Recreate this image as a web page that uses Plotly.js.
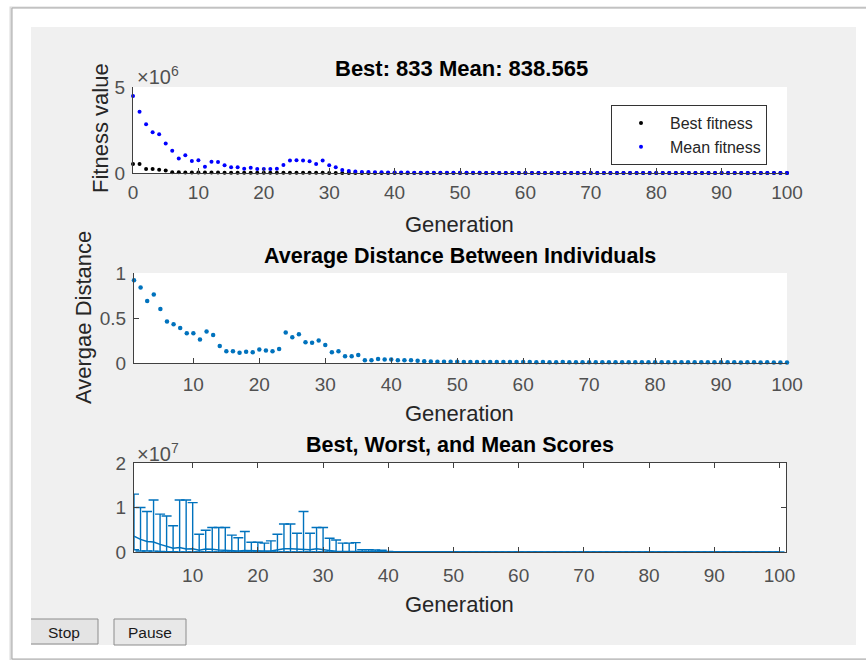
<!DOCTYPE html>
<html>
<head>
<meta charset="utf-8">
<script src="https://cdn.plot.ly/plotly-3.0.1.min.js"></script>
<style>
  html, body { margin: 0; padding: 0; background: #ffffff; }
  #chart { width: 866px; height: 660px; }
</style>
</head>
<body>
<div id="chart"></div>
<script>
// ---------------- data ----------------
const generations = [0,1,2,3,4,5,6,7,8,9,10,11,12,13,14,15,16,17,18,19,20,21,22,23,24,25,26,27,28,29,30,
  31,32,33,34,35,36,37,38,39,40,41,42,43,44,45,46,47,48,49,50,51,52,53,54,55,56,57,58,59,60,
  61,62,63,64,65,66,67,68,69,70,71,72,73,74,75,76,77,78,79,80,81,82,83,84,85,86,87,88,89,90,
  91,92,93,94,95,96,97,98,99,100];

const meanFitness = [4480000,3560000,2830000,2370000,2250000,1720000,1300000,850000,1030000,700000,
  740000,370000,660000,640000,450000,330000,330000,250000,310000,230000,
  230000,230000,250000,470000,720000,740000,720000,680000,520000,720000,
  450000,330000,170000,120000,80000,60000,52000,45000,39000,34000,
  30000,26000,23000,20500,18000,16000,14500,13000,11800,10700,
  9800,9000,8300,7700,7200,6700,6300,5900,5500,5200,
  4900,4600,4350,4100,3900,3700,3500,3300,3150,3000,
  2850,2700,2580,2460,2350,2250,2150,2060,1980,1900,
  1830,1760,1690,1630,1570,1510,1460,1410,1360,1310,
  1260,1220,1180,1140,1100,1060,1020,980,930,885,
  838.565];

const bestFitness = [520000,520000,230000,230000,190000,150000,45000,40000,36000,33000,
  30000,27000,25000,23000,21000,19000,17500,16000,15000,14000,
  13000,12000,11000,10500,10000,9500,9000,8500,8000,7600,
  7200,6800,6400,6000,5600,5300,5000,4700,4400,4100,
  3900,3700,3500,3300,3100,2950,2800,2650,2500,2380,
  2260,2150,2050,1960,1880,1800,1730,1660,1600,1540,
  1490,1440,1390,1350,1310,1270,1240,1210,1180,1150,
  1120,1100,1080,1060,1040,1020,1000,985,970,955,
  940,930,920,910,900,892,885,878,872,866,
  861,856,852,848,845,842,839,837,835,834,
  833];

const distGenerations = generations.slice(1);
const avgDistance = [0.92,0.84,0.69,0.76,0.60,0.46,0.43,0.39,0.33,0.33,
  0.26,0.35,0.31,0.19,0.13,0.13,0.115,0.125,0.12,0.15,
  0.14,0.13,0.155,0.34,0.285,0.32,0.23,0.225,0.25,0.20,
  0.12,0.13,0.075,0.075,0.09,0.03,0.03,0.045,0.04,0.04,
  0.03,0.03,0.03,0.025,0.02,0.018,0.015,0.015,0.014,0.013,
  0.012,0.012,0.011,0.011,0.011,0.010,0.010,0.010,0.011,0.010,
  0.010,0.009,0.010,0.009,0.009,0.010,0.009,0.009,0.009,0.008,
  0.009,0.008,0.009,0.008,0.008,0.008,0.009,0.008,0.008,0.008,
  0.008,0.007,0.008,0.007,0.008,0.007,0.007,0.008,0.007,0.007,
  0.007,0.007,0.006,0.007,0.007,0.006,0.007,0.006,0.006,0.006];

const scoreGenerations = generations.slice(1);
const worstScores = [13000000,10000000,9100000,11700000,8500000,8100000,5900000,11700000,11700000,11100000,
  4000000,4900000,5500000,5500000,5500000,3800000,3200000,4600000,2200000,2200000,
  2000000,2500000,4000000,6300000,6300000,4200000,9100000,4200000,5500000,5500000,
  3100000,2700000,2000000,2000000,2100000,500000,500000,450000,400000,120000,
  90000,80000,72000,65000,60000,55000,50000,46000,43000,40000,
  37000,35000,33000,31000,29000,27000,25500,24000,23000,22000,
  21000,20000,19000,18000,17200,16500,15800,15000,14500,14000,
  13500,13000,12500,12000,11600,11200,10800,10400,10000,9700,
  9400,9100,8800,8500,8200,8000,7800,7600,7400,7200,
  7000,6800,6600,6400,6200,6000,5800,5600,5400,5200];
const meanScores = meanFitness.slice(1);
const bestScores = bestFitness.slice(1);

const xTicksTop = [0,10,20,30,40,50,60,70,80,90,100];
const xTicksLower = [10,20,30,40,50,60,70,80,90,100];

// ---------------- helpers ----------------
const W = 866, H = 660;
const px = v => v / W;
const py = v => 1 - v / H;
const FONT = 'Liberation Sans, Arial, Helvetica, sans-serif';
const AX = '#404040';
const TICKC = '#505050';
const MBLUE = '#0072BD';

const upperErr = worstScores.map((w, i) => w - meanScores[i]);
const lowerErr = meanScores.map((m, i) => m - bestScores[i]);

// ---------------- traces ----------------
const traces = [
  {
    x: generations, y: bestFitness, type: 'scatter', mode: 'markers',
    name: 'Best fitness', xaxis: 'x', yaxis: 'y', cliponaxis: false,
    marker: { color: '#000000', size: 4 }
  },
  {
    x: generations, y: meanFitness, type: 'scatter', mode: 'markers',
    name: 'Mean fitness', xaxis: 'x', yaxis: 'y', cliponaxis: false,
    marker: { color: '#0000FF', size: 4 }
  },
  {
    x: distGenerations, y: avgDistance, type: 'scatter', mode: 'markers',
    name: 'Average distance', xaxis: 'x2', yaxis: 'y2', showlegend: false, cliponaxis: false,
    marker: { color: MBLUE, size: 4.5 }
  },
  {
    x: scoreGenerations, y: meanScores, type: 'scatter', mode: 'lines',
    name: 'Scores', xaxis: 'x3', yaxis: 'y3', showlegend: false,
    line: { color: MBLUE, width: 1.5 },
    error_y: {
      type: 'data', symmetric: false, array: upperErr, arrayminus: lowerErr,
      color: MBLUE, thickness: 1.4, width: 5, visible: true
    }
  }
];

function xAxis(domain, range, tickvals, anchor, mirror, standoff) {
  return {
    domain: domain, range: range, anchor: anchor,
    tickmode: 'array', tickvals: tickvals, ticktext: tickvals.map(String),
    ticks: 'inside', ticklen: 5, tickwidth: 1, tickcolor: AX,
    showline: true, linecolor: AX, linewidth: 1, mirror: mirror,
    showgrid: false, zeroline: false, fixedrange: true,
    ticklabelstandoff: standoff,
    tickfont: { family: FONT, size: 19, color: TICKC }
  };
}
function yAxis(domain, range, tickvals, ticktext, anchor, mirror) {
  return {
    domain: domain, range: range, anchor: anchor,
    tickmode: 'array', tickvals: tickvals, ticktext: ticktext,
    ticks: 'inside', ticklen: 5, tickwidth: 1, tickcolor: AX,
    showline: true, linecolor: AX, linewidth: 1, mirror: mirror,
    showgrid: false, zeroline: false, fixedrange: true,
    ticklabelstandoff: 3,
    tickfont: { family: FONT, size: 19, color: TICKC }
  };
}

const ann = (text, x, y, size, opts) => Object.assign({
  text: text, x: px(x), y: py(y), xref: 'paper', yref: 'paper',
  showarrow: false, xanchor: 'center', yanchor: 'middle',
  font: { family: FONT, size: size, color: '#262626' }
}, opts || {});

const layout = {
  width: W, height: H,
  margin: { l: 0, r: 0, t: 0, b: 0, pad: 0 },
  paper_bgcolor: '#ffffff',
  plot_bgcolor: '#ffffff',
  font: { family: FONT, color: '#262626' },
  showlegend: true,
  legend: {
    x: px(611), y: py(105), xanchor: 'left', yanchor: 'top',
    bgcolor: '#ffffff', bordercolor: '#333333', borderwidth: 1,
    font: { family: FONT, size: 16, color: '#262626' },
    itemwidth: 48, tracegroupgap: 0
  },
  xaxis: xAxis([px(133), px(787)], [0, 100], xTicksTop, 'y', false, 2),
  yaxis: yAxis([py(173), py(87)], [0, 5e6], [0, 5e6], ['0', '5'], 'x', false),
  xaxis2: xAxis([px(134), px(787)], [1, 100], xTicksLower, 'y2', false, 4),
  yaxis2: yAxis([py(363), py(273)], [0, 1], [0, 0.5, 1], ['0', '0.5', '1'], 'x2', false),
  xaxis3: xAxis([px(134), px(786)], [1, 101], xTicksLower, 'y3', 'ticks', 6),
  yaxis3: yAxis([py(552), py(463)], [0, 2e7], [0, 1e7, 2e7], ['0', '1', '2'], 'x3', 'ticks'),
  shapes: [
    // window frame
    { type: 'rect', xref: 'paper', yref: 'paper', layer: 'below',
      x0: px(11), x1: px(880), y0: py(8), y1: py(659),
      line: { color: '#dcdcdc', width: 3 }, fillcolor: '#ffffff' },
    { type: 'rect', xref: 'paper', yref: 'paper', layer: 'below',
      x0: px(12), x1: px(880), y0: py(8), y1: py(659),
      line: { color: '#a8a8a8', width: 1 }, fillcolor: '#ffffff' },
    // gray panel
    { type: 'rect', xref: 'paper', yref: 'paper', layer: 'below',
      x0: px(31), x1: px(856), y0: py(27), y1: py(645),
      line: { width: 0 }, fillcolor: '#f0f0f0' },
    // white plot backgrounds
    { type: 'rect', xref: 'x domain', yref: 'y domain', layer: 'below',
      x0: 0, x1: 1, y0: 0, y1: 1, line: { width: 0 }, fillcolor: '#ffffff' },
    { type: 'rect', xref: 'x2 domain', yref: 'y2 domain', layer: 'below',
      x0: 0, x1: 1, y0: 0, y1: 1, line: { width: 0 }, fillcolor: '#ffffff' },
    { type: 'rect', xref: 'x3 domain', yref: 'y3 domain', layer: 'below',
      x0: 0, x1: 1, y0: 0, y1: 1, line: { width: 0 }, fillcolor: '#ffffff' },
    // buttons
    { type: 'rect', xref: 'paper', yref: 'paper', layer: 'below',
      x0: px(31), x1: px(98), y0: py(619), y1: py(644),
      line: { width: 0 }, fillcolor: '#e4e4e4' },
    { type: 'path', xref: 'paper', yref: 'paper', layer: 'below',
      path: 'M ' + px(31) + ',' + py(619) + ' L ' + px(98) + ',' + py(619) + ' L ' + px(98) + ',' + py(644) + ' L ' + px(31) + ',' + py(644),
      line: { color: '#8c8c8c', width: 1 } },
    { type: 'rect', xref: 'paper', yref: 'paper', layer: 'below',
      x0: px(114), x1: px(186), y0: py(619), y1: py(645),
      line: { color: '#8c8c8c', width: 1 }, fillcolor: '#e8e8e8' }
  ],
  annotations: [
    ann('<b>Best: 833 Mean: 838.565</b>', 461, 68, 22, { font: { family: FONT, size: 22, color: '#000000' } }),
    ann('Fitness value', 100, 128, 22, { textangle: -90 }),
    ann('×10<sup>6</sup>', 135, 75, 20, { xanchor: 'left', font: { family: FONT, size: 20, color: TICKC } }),
    ann('Generation', 460, 225, 22),
    ann('<b>Average Distance Between Individuals</b>', 460, 256, 21.5, { font: { family: FONT, size: 21.5, color: '#000000' } }),
    ann('Avergae Distance', 83, 318, 22, { textangle: -90 }),
    ann('Generation', 460, 413, 22),
    ann('<b>Best, Worst, and Mean Scores</b>', 460, 445, 21.5, { font: { family: FONT, size: 21.5, color: '#000000' } }),
    ann('×10<sup>7</sup>', 135, 452, 20, { xanchor: 'left', font: { family: FONT, size: 20, color: TICKC } }),
    ann('Generation', 460, 604, 22),
    ann('Stop', 64, 632, 15.5, { font: { family: FONT, size: 15.5, color: '#1a1a1a' } }),
    ann('Pause', 150, 632, 15.5, { font: { family: FONT, size: 15.5, color: '#1a1a1a' } })
  ]
};

Plotly.newPlot('chart', traces, layout, { staticPlot: true, displayModeBar: false });
</script>
</body>
</html>
